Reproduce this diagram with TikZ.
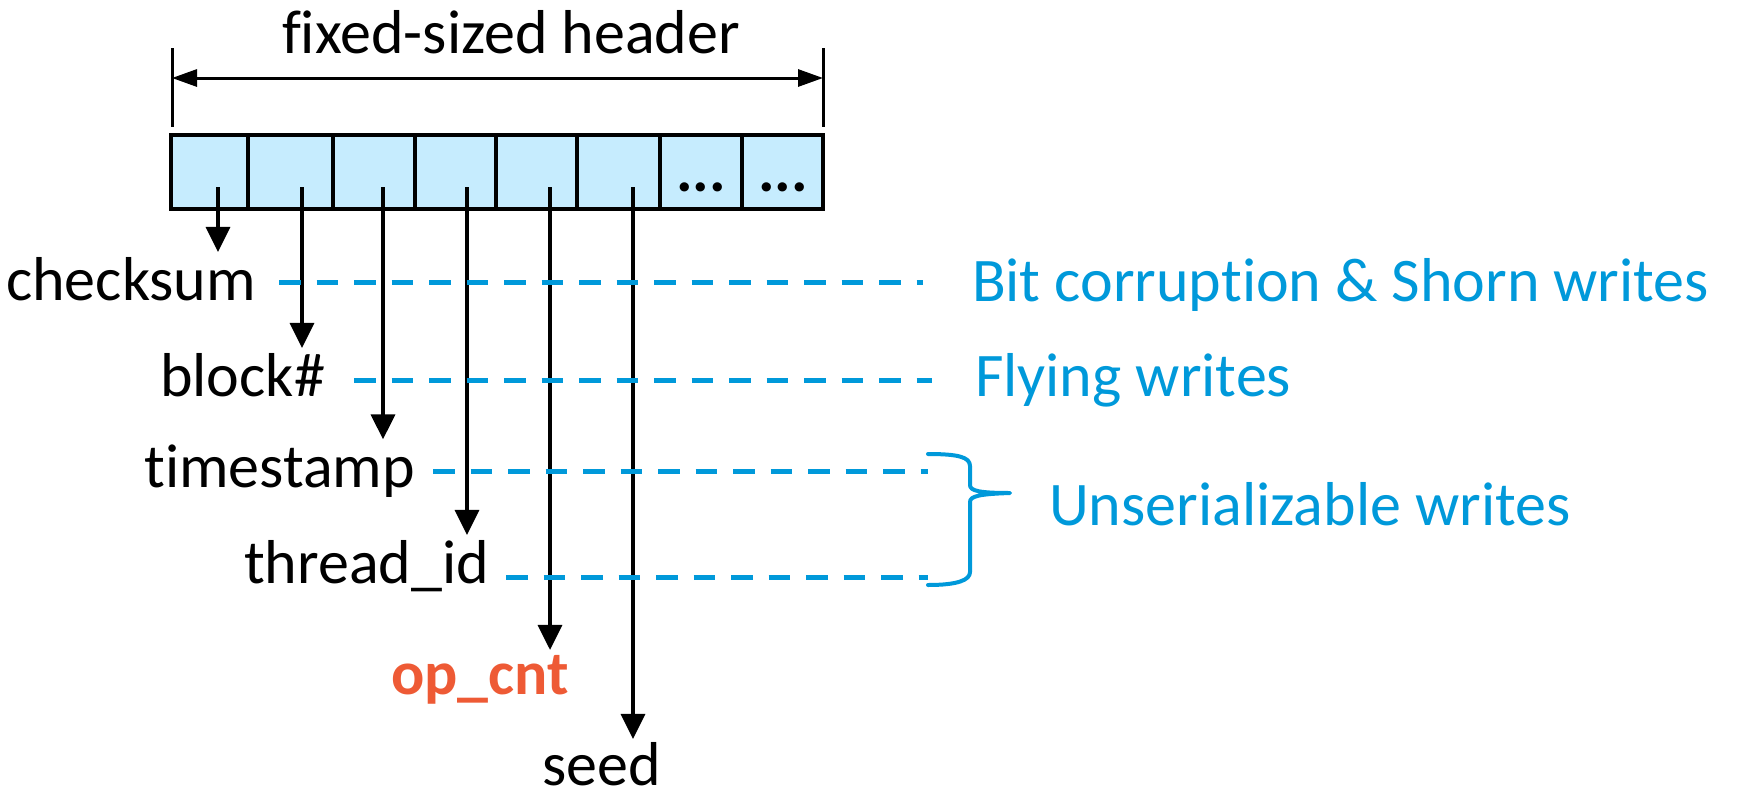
\documentclass[tikz,border=0pt]{standalone}
\usepackage{fontspec}
\setmainfont{Carlito}[Ligatures={NoCommon}]
\usetikzlibrary{arrows.meta,calc}
\definecolor{hdrblue}{RGB}{0,153,218}
\definecolor{cellfill}{RGB}{198,236,254}
\definecolor{opred}{RGB}{238,90,53}
\begin{document}
\begin{tikzpicture}[x=1pt,y=-1pt,
  lbl/.style={inner sep=0pt,outer sep=5pt,font=\fontsize{62}{74}\selectfont},
  bluelbl/.style={lbl,text=hdrblue},
  cellbox/.style={draw=black,fill=cellfill,line width=4pt,inner sep=0pt,outer sep=0pt,anchor=north west,minimum height=74pt},
  downarrow/.style={line width=3.5pt,-{Triangle[length=25pt,width=24pt]}},
  bluedash/.style={hdrblue,line width=5pt,dash pattern=on 21.5pt off 16pt},
  brace/.style={hdrblue,line width=4pt,line join=round,line cap=round},
  tick/.style={line width=3pt}
]
\useasboundingbox (0,0) rectangle (1741,801);

% header
\node[lbl,anchor=base] (hdr) at (511,53) {fixed-sized header};
\coordinate (tlt) at (172,48);
\coordinate (tlb) at (172,127);
\coordinate (trt) at (823,48);
\coordinate (trb) at (823,127);
\coordinate (hl) at (172,78);
\coordinate (hr) at (823,78);
\draw[tick] (tlt) -- (tlb);
\draw[tick] (trt) -- (trb);
\draw[line width=3pt,{Triangle[length=25pt,width=17pt]}-{Triangle[length=25pt,width=17pt]}] (hl) -- (hr);

% cells
\node[cellbox,minimum width=77pt] (c1) at (171,135) {};
\node[cellbox,minimum width=85pt] (c2) at (248,135) {};
\node[cellbox,minimum width=82pt] (c3) at (333,135) {};
\node[cellbox,minimum width=81pt] (c4) at (415,135) {};
\node[cellbox,minimum width=81pt] (c5) at (496,135) {};
\node[cellbox,minimum width=83pt] (c6) at (577,135) {};
\node[cellbox,minimum width=82pt] (c7) at (660,135) {};
\node[cellbox,minimum width=81pt] (c8) at (742,135) {};
\node[lbl,anchor=base,font=\fontsize{62}{74}\selectfont\bfseries] (d7) at (701,191) {...};
\node[lbl,anchor=base,font=\fontsize{62}{74}\selectfont\bfseries] (d8) at (783,191) {...};

% arrow starts
\coordinate (a1) at (218,187);
\coordinate (a2) at (302,187);
\coordinate (a3) at (383,187);
\coordinate (a4) at (467,187);
\coordinate (a5) at (550,187);
\coordinate (a6) at (633,187);

% labels
\node[lbl,anchor=base east] (checksum) at (261,300) {checksum};
\node[lbl,anchor=base east] (block) at (330,396) {block\#};
\node[lbl,anchor=base east] (timestamp) at (420,487) {timestamp};
\node[lbl,anchor=base east] (thread) at (494,583) {thread\_id};
\node[lbl,anchor=base,text=opred,font=\fontsize{62}{74}\selectfont\bfseries] (opcnt) at (480,694) {op\_cnt};
\node[lbl,anchor=base,outer sep=3pt] (seed) at (602,785) {seed};

\node[bluelbl,anchor=base west] (bit) at (967,301) {Bit corruption \& Shorn writes};
\node[bluelbl,anchor=base west] (fly) at (970,396) {Flying writes};
\node[bluelbl,anchor=base west] (unser) at (1044,525) {Unserializable writes};

% arrows
\draw[downarrow] (a1) -- (a1 |- checksum.north);
\draw[downarrow] (a2) -- (a2 |- block.north);
\draw[downarrow] (a3) -- (a3 |- timestamp.north);
\draw[downarrow] (a4) -- (a4 |- thread.north);
\draw[downarrow] (a5) -- (a5 |- opcnt.north);
\draw[downarrow] (a6) -- (a6 |- seed.north);

% dashed lines
\coordinate (s1) at (279,282);
\coordinate (s2) at (354,380);
\coordinate (s3) at (433,471);
\coordinate (s4) at (506,577);
\coordinate (bt) at (928,454);
\coordinate (bb) at (928,585);
\draw[bluedash,shorten >=44pt] (s1) -- (s1 -| bit.west);
\draw[bluedash,shorten >=38pt] (s2) -- (s2 -| fly.west);
\draw[bluedash] (s3) -- (s3 -| bt);
\draw[bluedash] (s4) -- (s4 -| bb);

% brace
\draw[brace] (bt) .. controls (958,454) and (970,457) .. (970,466)
  -- (970,485)
  .. controls (970,491) and (980,493) .. (1010,493)
  .. controls (980,494) and (970,496) .. (970,502)
  -- (970,572)
  .. controls (970,580) and (958,585) .. (bb);
\end{tikzpicture}
\end{document}
